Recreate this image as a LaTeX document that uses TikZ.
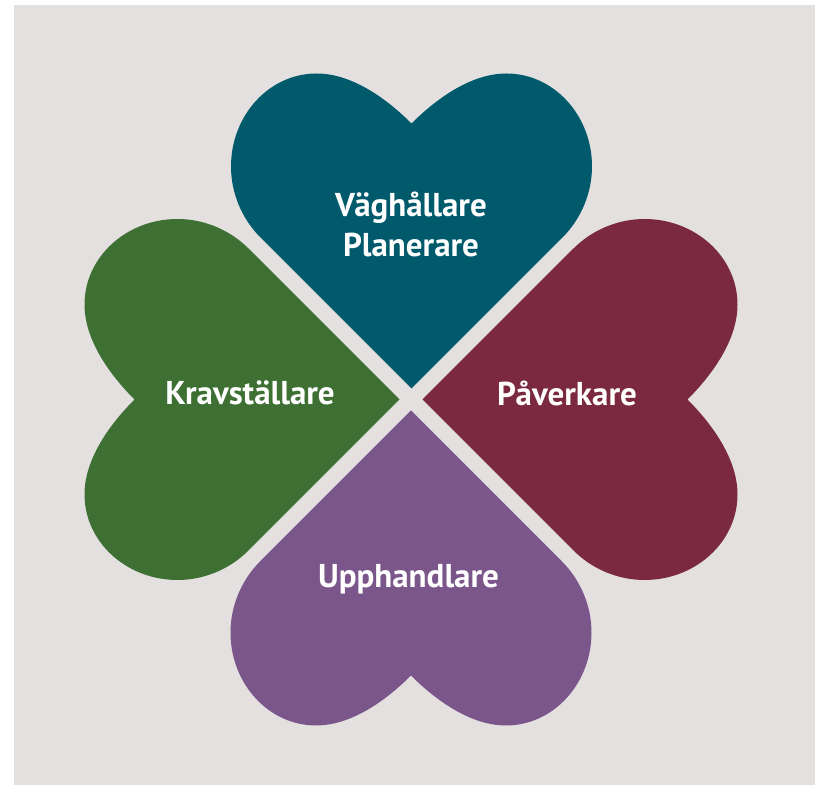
\documentclass[tikz,border=0pt]{standalone}
\usepackage{fontspec}
\setmainfont{PT Sans}
\definecolor{bggray}{HTML}{E3E0DF}
\definecolor{hteal}{HTML}{005A6B}
\definecolor{hgreen}{HTML}{3D7032}
\definecolor{hmaroon}{HTML}{7B2940}
\definecolor{hpurple}{HTML}{7B568B}
\tikzset{
  lbl/.style={text=white, font=\fontsize{33}{40}\selectfont\bfseries, anchor=base, inner sep=0pt},
}
\newcommand{\heartshape}{(0,0) -- (-151,151) .. controls (-169.7,169.7) and (-180.5,195.5) .. (-180.5,222)
  .. controls (-180.5,273.3) and (-142.2,315) .. (-95,315)
  .. controls (-57,315) and (-21.2,286.2) .. (0,265)
  .. controls (21.2,286.2) and (57,315) .. (95,315)
  .. controls (142.2,315) and (180.5,273.3) .. (180.5,222)
  .. controls (180.5,195.5) and (169.7,169.7) .. (151,151) -- cycle}
\begin{document}
\begin{tikzpicture}[x=1pt,y=1pt]
\useasboundingbox (0,0) rectangle (815,785);
\fill[white] (0,0) rectangle (815,785);
\fill[bggray] (14,-6) rectangle (821,780);
% hearts: centre (411,385.5) in picture coordinates, tip offset 11
\fill[hteal, shift={(411.5,396.5)}] \heartshape;
\fill[hgreen, shift={(399.5,385.5)}, rotate=90] \heartshape;
\fill[hmaroon, shift={(422.5,385.5)}, rotate=-90] \heartshape;
\fill[hpurple, shift={(411,374.5)}, rotate=180] \heartshape;
\node[lbl] (vag) at (411,568) {Väghållare};
\node[lbl] (plan) at (411,528) {Planerare};
\node[lbl] (krav) at (250,380) {Kravställare};
\node[lbl] (pav) at (567,379) {Påverkare};
\node[lbl] (upp) at (408.5,197) {Upphandlare};
\end{tikzpicture}
\end{document}
